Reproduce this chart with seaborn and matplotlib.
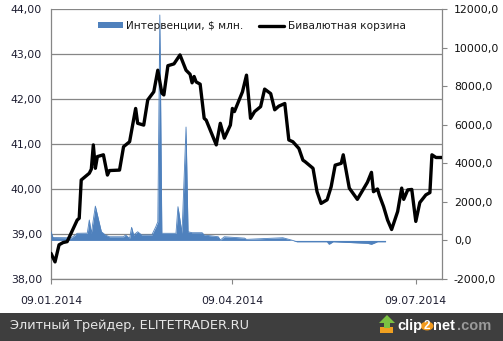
import matplotlib
matplotlib.use("Agg")
import matplotlib.pyplot as plt
from matplotlib.patches import Rectangle, Polygon, Patch, Circle
from matplotlib.lines import Line2D
from matplotlib.ticker import FuncFormatter, FixedLocator
import seaborn as sns
import pandas as pd

# Бивалютная корзина, руб.
basket_dates = [
    "2014-01-09", "2014-01-11", "2014-01-13", "2014-01-15", "2014-01-17", "2014-01-19",
    "2014-01-22", "2014-01-23", "2014-01-24", "2014-01-28", "2014-01-29", "2014-01-30",
    "2014-01-31", "2014-02-01", "2014-02-04", "2014-02-06", "2014-02-07", "2014-02-12",
    "2014-02-14", "2014-02-17", "2014-02-20", "2014-02-21", "2014-02-24", "2014-02-26",
    "2014-03-01", "2014-03-03", "2014-03-05", "2014-03-06", "2014-03-08", "2014-03-11",
    "2014-03-14", "2014-03-17", "2014-03-19", "2014-03-20", "2014-03-21", "2014-03-22",
    "2014-03-24", "2014-03-26", "2014-03-27", "2014-04-01", "2014-04-03", "2014-04-05",
    "2014-04-08", "2014-04-09", "2014-04-10", "2014-04-14", "2014-04-16", "2014-04-18",
    "2014-04-20", "2014-04-23", "2014-04-25", "2014-04-28", "2014-04-30", "2014-05-02",
    "2014-05-05", "2014-05-07", "2014-05-09", "2014-05-12", "2014-05-14", "2014-05-15",
    "2014-05-19", "2014-05-21", "2014-05-23", "2014-05-26", "2014-05-28", "2014-05-30",
    "2014-06-02", "2014-06-03", "2014-06-06", "2014-06-10", "2014-06-15", "2014-06-17",
    "2014-06-18", "2014-06-20", "2014-06-21", "2014-06-23", "2014-06-25", "2014-06-27",
    "2014-06-30", "2014-07-02", "2014-07-03", "2014-07-05", "2014-07-07", "2014-07-09",
    "2014-07-11", "2014-07-14", "2014-07-16", "2014-07-17", "2014-07-19", "2014-07-22",
]
basket_values = [
    38.57, 38.38, 38.76, 38.81, 38.83, 39.02,
    39.31, 39.35, 40.20, 40.35, 40.44, 40.98,
    40.46, 40.72, 40.76, 40.31, 40.41, 40.42,
    40.94, 41.05, 41.79, 41.46, 41.42, 41.98,
    42.16, 42.64, 42.13, 42.09, 42.74, 42.78,
    42.98, 42.64, 42.55, 42.36, 42.50, 42.38,
    42.33, 41.57, 41.53, 40.98, 41.46, 41.13,
    41.42, 41.79, 41.72, 42.16, 42.53, 41.57,
    41.72, 41.83, 42.22, 42.12, 41.76, 41.84,
    41.90, 41.09, 41.05, 40.90, 40.64, 40.61,
    40.46, 39.94, 39.68, 39.76, 40.05, 40.53,
    40.57, 40.76, 40.02, 39.77, 40.15, 40.37,
    39.94, 40.00, 39.85, 39.61, 39.31, 39.10,
    39.50, 40.02, 39.77, 39.98, 39.99, 39.28,
    39.70, 39.87, 39.92, 40.76, 40.70, 40.70,
]

# Интервенции, $ млн.
intervention_dates = [
    "2014-01-09", "2014-01-10", "2014-01-17", "2014-01-19", "2014-01-21", "2014-01-22",
    "2014-01-27", "2014-01-28", "2014-01-29", "2014-01-31", "2014-02-02", "2014-02-03",
    "2014-02-05", "2014-02-07", "2014-02-14", "2014-02-15", "2014-02-17", "2014-02-18",
    "2014-02-19", "2014-02-21", "2014-02-23", "2014-02-28", "2014-03-02", "2014-03-03",
    "2014-03-04", "2014-03-05", "2014-03-12", "2014-03-13", "2014-03-15", "2014-03-17",
    "2014-03-18", "2014-03-20", "2014-03-25", "2014-03-26", "2014-04-02", "2014-04-03",
    "2014-04-05", "2014-04-15", "2014-04-16", "2014-05-04", "2014-05-09", "2014-05-11",
    "2014-05-26", "2014-05-27", "2014-05-29", "2014-06-15", "2014-06-17", "2014-06-20",
    "2014-06-24",
]
intervention_values = [
    450, 150, 140, 130, 280, 370,
    380, 1060, 370, 1780, 890, 450,
    280, 190, 190, 280, 110, 680,
    280, 450, 280, 280, 710, 970,
    11690, 370, 370, 1750, 370, 5880,
    450, 400, 400, 280, 190, 20,
    190, 120, 55, 140, 0, -70,
    -70, -200, -70, -150, -200, -70,
    -70,
]

basket_ticks = [38, 39, 40, 41, 42, 43, 44]
intervention_ticks = [-2000, 0, 2000, 4000, 6000, 8000, 10000, 12000]
date_ticks = ["2014-01-09", "2014-04-09", "2014-07-09"]
x_range = ["2014-01-09", "2014-07-22"]

series_labels = ["Интервенции, $ млн.", "Бивалютная корзина"]
footer_text = "Элитный Трейдер, ELITETRADER.RU"

AREA_BLUE = "#4f81bd"
GRID_GREY = "#868686"
LABEL_DARK = "#1c1c30"

sns.set_theme(style="white")
plt.rcParams["font.family"] = ["DejaVu Sans"]

basket = pd.DataFrame({"date": pd.to_datetime(basket_dates), "value": basket_values})
interventions = pd.DataFrame({"date": pd.to_datetime(intervention_dates),
                              "value": intervention_values})

W, H = 503, 341
fig = plt.figure(figsize=(W / 100, H / 100), dpi=100)
fig.patch.set_facecolor("white")
pos = [51 / W, 62 / H, 391 / W, 270 / H]

# Grid / left scale axes at the bottom, intervention area above it, basket line on top
ax = fig.add_axes(pos)
ax2 = ax.twinx()
ax3 = fig.add_axes(pos, sharex=ax, sharey=ax)
ax.set_zorder(1)
ax2.set_zorder(2)
ax3.set_zorder(3)
ax2.patch.set_visible(False)
ax3.patch.set_visible(False)

# intervention area
ax2.fill_between(interventions["date"], 0, interventions["value"],
                 color=AREA_BLUE, linewidth=0)
sns.lineplot(data=interventions, x="date", y="value", ax=ax2,
             color=AREA_BLUE, linewidth=0.6)

# basket line
sns.lineplot(data=basket, x="date", y="value", ax=ax3,
             color="black", linewidth=2.4)

x0, x1 = pd.to_datetime(x_range)
ax.set_xlim(x0, x1)
ax.set_ylim(basket_ticks[0], basket_ticks[-1])
ax2.set_ylim(intervention_ticks[0], intervention_ticks[-1])

# left axis
ax.yaxis.set_major_locator(FixedLocator(basket_ticks))
ax.yaxis.set_major_formatter(FuncFormatter(lambda v, p: f"{v:.2f}".replace(".", ",")))
ax.grid(axis="y", color=GRID_GREY, linewidth=0.9)
ax.grid(axis="x", visible=False)
ax.tick_params(axis="y", left=False, length=0, pad=6.5, labelsize=7.8,
               labelcolor=LABEL_DARK)

# date axis
ax.set_xticks(pd.to_datetime(date_ticks))
ax.set_xticklabels([pd.Timestamp(d).strftime("%d.%m.%Y") for d in date_ticks])
ax.tick_params(axis="x", bottom=True, direction="out", length=3.6, width=0.8,
               color=GRID_GREY, pad=8.5, labelsize=7.8, labelcolor=LABEL_DARK)

# right axis
ax2.yaxis.set_major_locator(FixedLocator(intervention_ticks))
ax2.yaxis.set_major_formatter(FuncFormatter(lambda v, p: f"{v:.1f}".replace(".", ",")))
ax2.tick_params(axis="y", right=True, direction="out", length=3.6, width=0.8,
                color=GRID_GREY, pad=5, labelsize=7.8, labelcolor="#111111")
ax2.grid(False)

for a in (ax, ax2):
    a.set_xlabel("")
    a.set_ylabel("")
    for s in a.spines.values():
        s.set_visible(False)
ax.spines["left"].set_visible(True)
ax.spines["bottom"].set_visible(True)
ax2.spines["right"].set_visible(True)
for s in (ax.spines["left"], ax.spines["bottom"], ax2.spines["right"]):
    s.set_color(GRID_GREY)
    s.set_linewidth(0.9)

ax3.axis("off")

handles = [Patch(facecolor=AREA_BLUE, edgecolor="none"),
           Line2D([], [], color="black", linewidth=2.4)]
ax3.legend(handles, series_labels, loc="center", bbox_to_anchor=(0.513, 0.937),
           ncol=2, frameon=False, fontsize=7.6, handlelength=2.4, handleheight=0.55,
           handletextpad=0.3, columnspacing=1.5, labelcolor="#1a1a1a")

# footer band
fig.add_artist(Rectangle((0, 0), 1, 28 / H, transform=fig.transFigure,
                         facecolor="#3e3e3e", edgecolor="none"))
fig.text(10 / W, 1 - 326 / H, footer_text, color="#e6e6e6", fontsize=9.3,
         va="center", ha="left")


def fp(x, y):
    return (x / W, 1 - y / H)


# clip2net mark
fig.add_artist(Polygon([fp(380, 327), fp(393, 327), fp(393, 333), fp(380, 333)],
                       closed=True, transform=fig.transFigure,
                       facecolor="#f0a020", edgecolor="none"))
fig.add_artist(Polygon([fp(384, 328), fp(384, 323), fp(379, 323), fp(387, 315),
                        fp(395, 323), fp(390, 323), fp(390, 328)],
                       closed=True, transform=fig.transFigure,
                       facecolor="#7cc242", edgecolor="none"))
fig.add_artist(Circle(fp(427, 326), 6.5 / W, transform=fig.transFigure,
                      facecolor="#f29a1d", edgecolor="none"))
logo_font = ["Liberation Sans", "DejaVu Sans"]
fig.text(397 / W, 1 - 326 / H, "clip", color="white", fontsize=10.5, fontweight="bold",
         family=logo_font, va="center", ha="left")
fig.text(427 / W, 1 - 326 / H, "2", color="white", fontsize=8.5, fontweight="bold",
         family=logo_font, va="center", ha="center")
fig.text(433.5 / W, 1 - 326 / H, "net", color="white", fontsize=10.5, fontweight="bold",
         family=logo_font, va="center", ha="left")
fig.text(457.5 / W, 1 - 326 / H, ".com", color="#9a9a9a", fontsize=10.5,
         fontweight="bold", family=logo_font, va="center", ha="left")

fig.savefig("out.png", dpi=100, facecolor="white")
